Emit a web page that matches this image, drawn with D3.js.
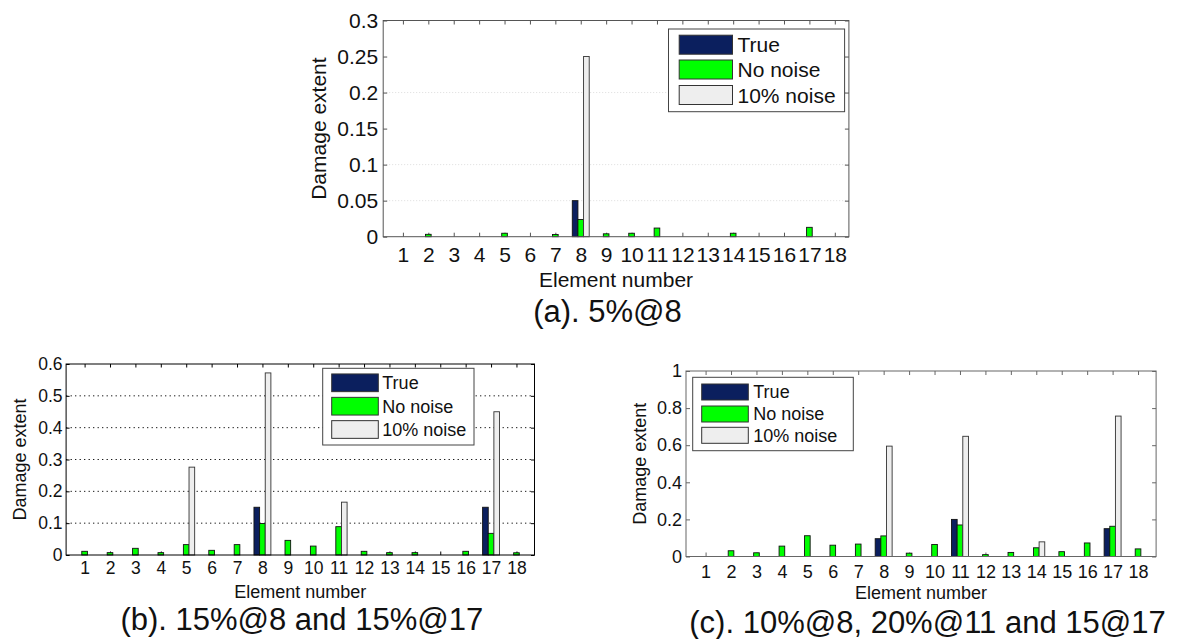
<!DOCTYPE html>
<html>
<head>
<meta charset="utf-8">
<script src="https://cdn.jsdelivr.net/npm/d3@7"></script>
<style>
  body { margin: 0; background: #fff; }
  svg { display: block; }
  text { font-family: Arial, "Liberation Sans", Helvetica, sans-serif; fill: #111; }
</style>
</head>
<body>
<svg id="chart" width="1179" height="639"></svg>
<script>
// ---------- data ----------
const elements = [1, 2, 3, 4, 5, 6, 7, 8, 9, 10, 11, 12, 13, 14, 15, 16, 17, 18];
const seriesNames = ["True", "No noise", "10% noise"];
const seriesColors = ["#0b1f5e", "#00ff00", "#eeeeee"];

// (a) 5%@8
const trueA    = [0, 0, 0, 0, 0, 0, 0, 0.05, 0, 0, 0, 0, 0, 0, 0, 0, 0, 0];
const noNoiseA = [0, 0.0033, 0, 0, 0.0048, 0, 0.003, 0.0238, 0.004, 0.0048, 0.012, 0, 0, 0.0048, 0, 0, 0.013, 0];
const noise10A = [0, 0, 0, 0, 0, 0, 0, 0.25, 0, 0, 0, 0, 0, 0, 0, 0, 0, 0];
const yTicksA = [0, 0.05, 0.1, 0.15, 0.2, 0.25, 0.3];
const yTickLabelsA = ["0", "0.05", "0.1", "0.15", "0.2", "0.25", "0.3"];
const gridA = [0.05, 0.1, 0.2];
const captionA = "(a). 5%@8";

// (b) 15%@8 and 15%@17
const trueB    = [0, 0, 0, 0, 0, 0, 0, 0.15, 0, 0, 0, 0, 0, 0, 0, 0, 0.15, 0];
const noNoiseB = [0.0116, 0.0074, 0.021, 0.0074, 0.0326, 0.0147, 0.0326, 0.099, 0.046, 0.028, 0.089, 0.0116, 0.0074, 0.0074, 0, 0.0116, 0.068, 0.007];
const noise10B = [0, 0, 0, 0, 0.276, 0, 0, 0.572, 0, 0, 0.166, 0, 0, 0, 0, 0, 0.45, 0];
const yTicksB = [0, 0.1, 0.2, 0.3, 0.4, 0.5, 0.6];
const yTickLabelsB = ["0", "0.1", "0.2", "0.3", "0.4", "0.5", "0.6"];
const gridB = [0.1, 0.2, 0.3, 0.4, 0.5];
const captionB = "(b). 15%@8 and 15%@17";

// (c) 10%@8, 20%@11 and 15@17
const trueC    = [0, 0, 0, 0, 0, 0, 0, 0.096, 0, 0, 0.2, 0, 0, 0, 0, 0, 0.15, 0];
const noNoiseC = [0, 0.031, 0.02, 0.056, 0.112, 0.061, 0.067, 0.111, 0.018, 0.065, 0.17, 0.01, 0.022, 0.047, 0.026, 0.073, 0.163, 0.041];
const noise10C = [0, 0, 0, 0, 0, 0, 0, 0.595, 0, 0, 0.648, 0, 0, 0.079, 0, 0, 0.757, 0];
const yTicksC = [0, 0.2, 0.4, 0.6, 0.8, 1];
const yTickLabelsC = ["0", "0.2", "0.4", "0.6", "0.8", "1"];
const gridC = [];
const captionC = "(c). 10%@8, 20%@11 and 15@17";

const xLabel = "Element number";
const yLabel = "Damage extent";

// ---------- drawing ----------
const svg = d3.select("#chart");
svg.append("rect").attr("width", 1179).attr("height", 639).attr("fill", "#fff");

function drawPanel(p) {
  const g = svg.append("g");
  const x = d3.scaleLinear().domain(p.xDomain).range([p.left, p.right]);
  const y = d3.scaleLinear().domain([0, p.yMax]).range([p.bottom, p.top]);

  // grid
  g.selectAll(null).data(p.grid).join("line")
    .attr("x1", p.left).attr("x2", p.right)
    .attr("y1", d => y(d)).attr("y2", d => y(d))
    .attr("stroke", p.gridColor).attr("stroke-width", 1)
    .attr("stroke-dasharray", p.gridDash);

  // axes (ticks inward, mirrored)
  const fmtY = d => p.yLabels[p.yTicks.indexOf(d)];
  const axB = g.append("g").attr("transform", `translate(0,${p.bottom})`)
    .call(d3.axisBottom(x).tickValues(elements).tickSizeInner(-p.tick).tickSizeOuter(0).tickPadding(p.xPad));
  const axT = g.append("g").attr("transform", `translate(0,${p.top})`)
    .call(d3.axisTop(x).tickValues(elements).tickSizeInner(-p.tick).tickSizeOuter(0).tickFormat(""));
  const axL = g.append("g").attr("transform", `translate(${p.left},0)`)
    .call(d3.axisLeft(y).tickValues(p.yTicks).tickFormat(fmtY).tickSizeInner(-p.tick).tickSizeOuter(0).tickPadding(p.yPad));
  const axR = g.append("g").attr("transform", `translate(${p.right},0)`)
    .call(d3.axisRight(y).tickValues(p.yTicks).tickSizeInner(-p.tick).tickSizeOuter(0).tickFormat(""));
  [axB, axT, axL, axR].forEach(a => {
    a.select(".domain").remove();
    a.selectAll(".tick line").attr("stroke", p.axisColor);
    a.selectAll("text").style("font-family", "Arial, 'Liberation Sans', sans-serif")
      .style("font-size", p.tickFont + "px").attr("fill", p.textColor);
  });

  // bars
  const bw = 0.222;
  const all = [p.trueVals, p.noNoise, p.noise10];
  all.forEach((vals, si) => {
    const off = (si - 1) * bw;
    const rows = elements.map((e, i) => ({ e, v: vals[i] })).filter(d => d.v > 0);
    g.selectAll(null).data(rows).join("rect")
      .attr("x", d => x(d.e + off - bw / 2))
      .attr("width", d => x(d.e + off + bw / 2) - x(d.e + off - bw / 2))
      .attr("y", d => y(d.v))
      .attr("height", d => y(0) - y(d.v))
      .attr("fill", seriesColors[si])
      .attr("stroke", si === 2 ? "#333" : "#111")
      .attr("stroke-width", 0.9);
  });

  // frame
  g.append("rect")
    .attr("x", p.left).attr("y", p.top)
    .attr("width", p.right - p.left).attr("height", p.bottom - p.top)
    .attr("fill", "none").attr("stroke", p.axisColor).attr("stroke-width", 1);

  // axis titles
  g.append("text")
    .attr("x", (p.left + p.right) / 2).attr("y", p.xLabelY)
    .attr("text-anchor", "middle").style("font-size", p.labelFont + "px")
    .attr("fill", p.textColor).text(xLabel);
  g.append("text")
    .attr("transform", `translate(${p.yLabelX},${(p.top + p.bottom) / 2}) rotate(-90)`)
    .attr("text-anchor", "middle").style("font-size", p.labelFont + "px")
    .attr("fill", p.textColor).text(yLabel);

  // legend
  const L = p.legend;
  g.append("rect")
    .attr("x", L.x0).attr("y", L.y0).attr("width", L.x1 - L.x0).attr("height", L.y1 - L.y0)
    .attr("fill", "#fff").attr("stroke", "#444").attr("stroke-width", 1);
  seriesNames.forEach((name, i) => {
    const cy = L.rows[i];
    g.append("rect")
      .attr("x", L.sx0).attr("y", cy - L.sh / 2)
      .attr("width", L.sx1 - L.sx0).attr("height", L.sh)
      .attr("fill", seriesColors[i]).attr("stroke", "#333").attr("stroke-width", 1);
    g.append("text")
      .attr("x", L.tx).attr("y", cy).attr("dy", "0.36em")
      .style("font-size", L.font + "px").attr("fill", p.textColor).text(name);
  });

  // caption
  g.append("text")
    .attr("x", p.capX).attr("y", p.capY)
    .attr("text-anchor", "middle").style("font-size", "31px")
    .attr("fill", "#000").text(p.caption);
}

drawPanel({
  left: 383.2, right: 848.9, top: 20.5, bottom: 236.7,
  xDomain: [0.224, 18.555], yMax: 0.3,
  yTicks: yTicksA, yLabels: yTickLabelsA,
  grid: gridA, gridColor: "#dcdcdc", gridDash: "1,2",
  trueVals: trueA, noNoise: noNoiseA, noise10: noise10A,
  tick: 4, xPad: 10, yPad: 5, tickFont: 21, labelFont: 21,
  axisColor: "#555", textColor: "#111",
  xLabelY: 287, yLabelX: 325.7,
  legend: { x0: 668.5, x1: 844.6, y0: 29, y1: 111.7, sx0: 679.2, sx1: 732.5, sh: 19,
            rows: [44.7, 69.5, 95], tx: 737.5, font: 21 },
  caption: captionA, capX: 607.5, capY: 321.5
});

drawPanel({
  left: 66.1, right: 534.5, top: 364, bottom: 555,
  xDomain: [0.272, 18.71], yMax: 0.6,
  yTicks: yTicksB, yLabels: yTickLabelsB,
  grid: gridB, gridColor: "#000", gridDash: "1.2,3.3",
  trueVals: trueB, noNoise: noNoiseB, noise10: noise10B,
  tick: 3.5, xPad: 7, yPad: 3.6, tickFont: 17.5, labelFont: 18,
  axisColor: "#000", textColor: "#222",
  xLabelY: 597.5, yLabelX: 25.7,
  legend: { x0: 322.7, x1: 474, y0: 368.3, y1: 445, sx0: 331.7, sx1: 378.3, sh: 17.7,
            rows: [382.8, 406.2, 429.5], tx: 382.3, font: 18 },
  caption: captionB, capX: 301.8, capY: 630
});

drawPanel({
  left: 686, right: 1156.1, top: 371, bottom: 556.5,
  xDomain: [0.23, 18.71], yMax: 1,
  yTicks: yTicksC, yLabels: yTickLabelsC,
  grid: gridC, gridColor: "#000", gridDash: "1,3",
  trueVals: trueC, noNoise: noNoiseC, noise10: noise10C,
  tick: 4, xPad: 8.5, yPad: 4, tickFont: 18, labelFont: 18,
  axisColor: "#666", textColor: "#111",
  xLabelY: 599, yLabelX: 645.5,
  legend: { x0: 692.7, x1: 853.3, y0: 377.3, y1: 450.7, sx0: 701.7, sx1: 748.3, sh: 16,
            rows: [392, 414, 435.3], tx: 753.3, font: 18 },
  caption: captionC, capX: 927.5, capY: 633
});
</script>
</body>
</html>
